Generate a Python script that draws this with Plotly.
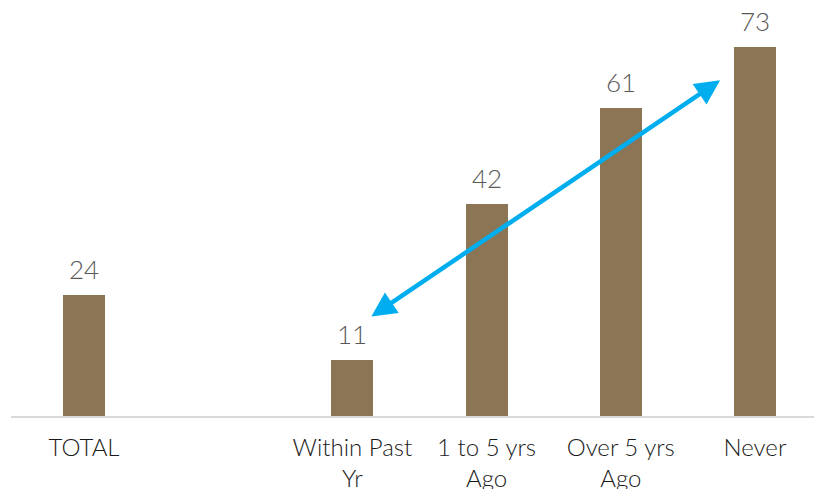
import plotly.graph_objects as go

# Share of respondents (%) by time since last event
categories = ["TOTAL", "", "Within Past<br>Yr", "1 to 5 yrs<br>Ago", "Over 5 yrs<br>Ago", "Never"]
values = [24, None, 11, 42, 61, 73]

BAR_COLOR = "#8B7555"
ARROW_COLOR = "#00AEEF"
LABEL_COLOR = "#595959"

xpos = list(range(len(categories)))
bx = [x for x, v in zip(xpos, values) if v is not None]
bv = [v for v in values if v is not None]

fig = go.Figure(
    go.Bar(
        x=bx,
        y=bv,
        width=0.313,
        marker=dict(color=BAR_COLOR, line=dict(width=0)),
        hoverinfo="skip",
    )
)

# Value labels above each bar
for x, v in zip(bx, bv):
    fig.add_annotation(
        x=x, y=v, text=str(v), showarrow=False,
        yanchor="bottom", yshift=8,
        font=dict(family="Lato", size=26, color=LABEL_COLOR, weight=300),
    )

# Double-headed trend arrow from "Within Past Yr" up to "Never"
fig.add_annotation(
    x=4.74, y=66.5, ax=2.13, ay=19.5,
    xref="x", yref="y", axref="x", ayref="y",
    text="", showarrow=True,
    arrowhead=2, startarrowhead=2, arrowside="end+start",
    arrowsize=1.1, startarrowsize=1.1, arrowwidth=4.5,
    arrowcolor=ARROW_COLOR, standoff=0, startstandoff=0,
)

fig.update_layout(
    width=814, height=489,
    margin=dict(l=11, r=0, t=0, b=73, autoexpand=False),
    paper_bgcolor="white", plot_bgcolor="white",
    showlegend=False,
    bargap=0,
)
fig.update_xaxes(
    range=[-0.544, 5.44],
    automargin=False,
    tickmode="array", tickvals=xpos, ticktext=categories,
    showgrid=False, zeroline=False,
    showline=True, linecolor="#D9D9D9", linewidth=1.5,
    ticks="outside", ticklen=9, tickcolor="rgba(0,0,0,0)",
    tickfont=dict(family="Lato", size=24, color="#1A1A1A", weight=300),
    tickangle=0,
)
fig.update_yaxes(range=[0, 82.4], visible=False, automargin=False)

fig.write_html("out.html")
